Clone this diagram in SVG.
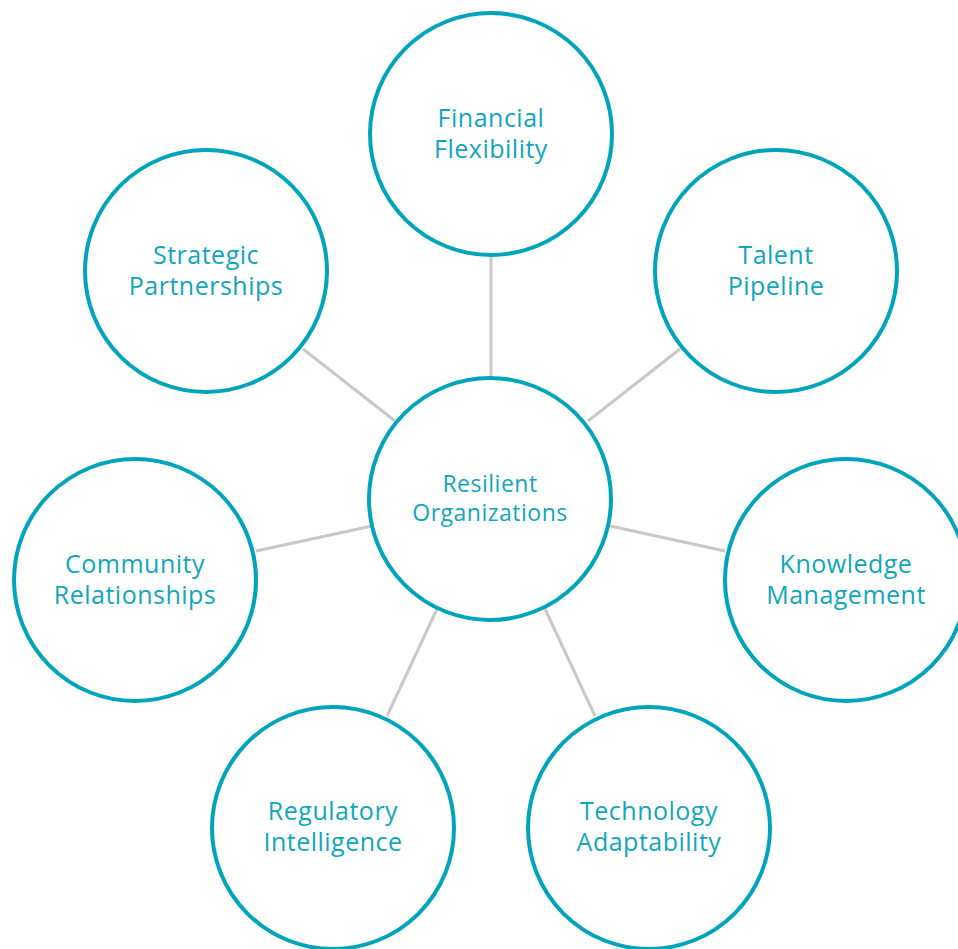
<svg xmlns="http://www.w3.org/2000/svg" width="958" height="949" viewBox="0 0 958 949">
<style>
.n{fill:#fff;stroke:#00A5BB;stroke-width:4}
.t{font-family:"Open Sans","Liberation Sans",sans-serif;font-size:25px;letter-spacing:0.5px;fill:#0FA6BE;text-anchor:middle}
.c{font-size:23px}
.e{stroke:#C9C9C9;stroke-width:3;fill:none}
</style>
<rect width="958" height="949" fill="#fff"/>
<g id="connectors">
<line class="e" x1="491" y1="257" x2="491" y2="377"/>
<line class="e" x1="680" y1="349" x2="588" y2="421"/>
<line class="e" x1="303" y1="349" x2="395" y2="421"/>
<line class="e" x1="256" y1="551" x2="372" y2="526"/>
<line class="e" x1="725" y1="551" x2="610" y2="526"/>
<line class="e" x1="387" y1="716" x2="437" y2="609"/>
<line class="e" x1="595" y1="716" x2="545" y2="609"/>
</g>
<g id="center"><circle class="n" cx="490" cy="499" r="121"/><text class="t c" x="490" y="492">Resilient</text><text class="t c" x="490" y="521">Organizations</text></g>
<g id="financial"><circle class="n" cx="491" cy="134" r="121"/><text class="t" x="491" y="127">Financial</text><text class="t" x="491" y="158">Flexibility</text></g>
<g id="talent"><circle class="n" cx="776" cy="271" r="121"/><text class="t" x="776" y="264">Talent</text><text class="t" x="776" y="295">Pipeline</text></g>
<g id="strategic"><circle class="n" cx="206" cy="271" r="121"/><text class="t" x="206" y="264">Strategic</text><text class="t" x="206" y="295">Partnerships</text></g>
<g id="community"><circle class="n" cx="135" cy="580" r="121"/><text class="t" x="135" y="573">Community</text><text class="t" x="135" y="604">Relationships</text></g>
<g id="knowledge"><circle class="n" cx="846" cy="580" r="121"/><text class="t" x="846" y="573">Knowledge</text><text class="t" x="846" y="604">Management</text></g>
<g id="regulatory"><circle class="n" cx="333" cy="828" r="121"/><text class="t" x="333" y="820">Regulatory</text><text class="t" x="333" y="851">Intelligence</text></g>
<g id="technology"><circle class="n" cx="649" cy="828" r="121"/><text class="t" x="649" y="820">Technology</text><text class="t" x="649" y="851">Adaptability</text></g>
</svg>
